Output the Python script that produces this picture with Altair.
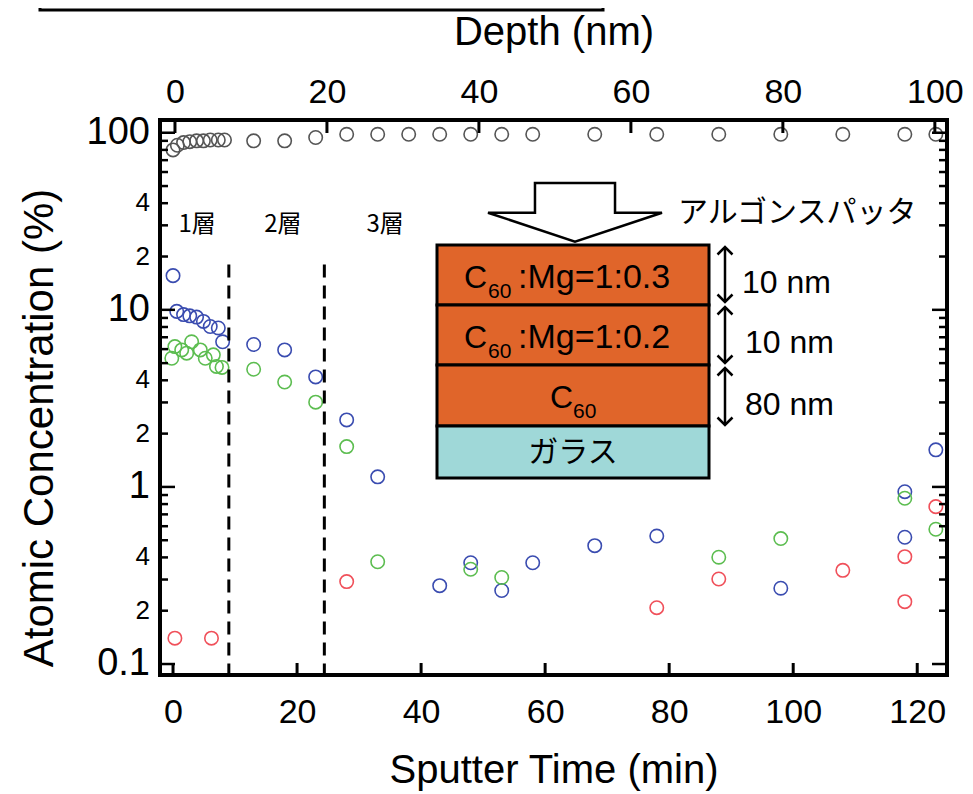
import altair as alt
import pandas as pd

# ---------------- data ----------------
series_names = ["gray", "blue", "green", "red"]
series_colors = ["#555555", "#3a4cb0", "#5cbd50", "#f0505a"]

gray_t = [0, 0.7, 1.7, 2.7, 3.8, 4.9, 6.0, 7.3, 8.3, 13, 18, 23, 28, 33, 38, 43, 48, 53, 58, 68, 78, 88, 98, 108, 118, 123]
gray_v = [80, 85, 88, 89, 90, 90, 91, 91, 91, 90, 90, 94, 98, 98, 98, 98, 98, 98, 98, 98, 98, 98, 98, 98, 98, 98]

blue_t = [0, 0.6, 1.7, 2.7, 3.8, 4.9, 6.0, 7.3, 8.0, 13, 18, 23, 28, 33, 43, 48, 53, 58, 68, 78, 98, 118, 118, 123]
blue_v = [15.6, 9.8, 9.4, 9.25, 9.1, 8.6, 8.05, 7.9, 6.6, 6.37, 5.94, 4.18, 2.39, 1.14, 0.277, 0.373, 0.26, 0.373, 0.466, 0.528, 0.268, 0.94, 0.52, 1.62]

green_t = [-0.2, 0.3, 1.4, 2.2, 3.0, 4.4, 5.2, 6.5, 7.0, 7.9, 13, 18, 23, 28, 33, 48, 53, 88, 98, 118, 123]
green_v = [5.33, 6.2, 5.94, 5.69, 6.6, 5.94, 5.33, 5.57, 4.79, 4.73, 4.62, 3.91, 3.01, 1.69, 0.378, 0.343, 0.308, 0.401, 0.511, 0.863, 0.577]

red_t = [0.3, 6.2, 28, 78, 88, 108, 118, 118, 123]
red_v = [0.14, 0.14, 0.292, 0.208, 0.302, 0.338, 0.404, 0.225, 0.774]

time_ticks = [0, 20, 40, 60, 80, 100, 120]
depth_ticks = [0, 20, 40, 60, 80, 100]
y_decades = [0.1, 1, 10, 100]
y_decade_labels = ["0.1", "1", "10", "100"]
y_minor_label_values = [0.2, 0.4, 2, 4, 20, 40]
y_minor_labels = ["2", "4", "2", "4", "2", "4"]
y_minor_mult = [2, 3, 4, 5, 6, 7, 8, 9]

layer_labels = ["1層", "2層", "3層"]
layer_label_t = [3.9, 17.7, 34.2]
layer_label_v = [30, 30, 30]

dash_t = [9.0, 24.4]
dash_top = [18, 18]

# ---------------- geometry / style ----------------
W, H = 787, 555
T_DOM = [-2.1, 124.8]
D_DOM = [-1.97, 101.6]
Y_DOM = [0.0867, 118]
FONT = "Liberation Sans"
JP = "Noto Sans CJK JP"

rows = []
for name, ts, vs in [("gray", gray_t, gray_v), ("blue", blue_t, blue_v),
                     ("green", green_t, green_v), ("red", red_t, red_v)]:
    for t, v in zip(ts, vs):
        rows.append({"t": t, "v": v, "s": name})
df = pd.DataFrame(rows)

minor_vals = [d * m for d in y_decades[:-1] for m in y_minor_mult]
dummy = pd.DataFrame({"a": [0]})


def xs():
    return alt.Scale(domain=T_DOM, nice=False, zero=False)


ys = alt.Scale(type="log", domain=Y_DOM, nice=False)

points = alt.Chart(df).mark_point(filled=False, size=180, strokeWidth=1.6, opacity=1).encode(
    x=alt.X("t:Q", scale=xs(), axis=alt.Axis(
        orient="bottom", values=time_ticks, title="Sputter Time (min)", domain=False, ticks=False,
        grid=False, labelFontSize=34, labelPadding=37, labelBaseline="middle", labelFont=FONT,
        labelColor="black", titleFont=FONT, titleFontSize=40, titleFontWeight="normal",
        titleColor="black", titleBaseline="middle", titleY=95, labelFlush=False)),
    y=alt.Y("v:Q", scale=ys, axis=None),
    color=alt.Color("s:N", scale=alt.Scale(domain=series_names, range=series_colors), legend=None),
)

dashes = alt.Chart(pd.DataFrame({"t": dash_t, "top": dash_top})).mark_rule(
    strokeDash=[13, 8], strokeWidth=3, color="black").encode(
    x=alt.X("t:Q", scale=xs(), axis=None), y=alt.Y("top:Q", scale=ys, axis=None), y2=alt.value(H))

layer_txt = alt.Chart(pd.DataFrame({"t": layer_label_t, "v": layer_label_v, "lab": layer_labels})).mark_text(
    font=JP, fontSize=24, color="black", baseline="middle").encode(
    x=alt.X("t:Q", scale=xs(), axis=None), y=alt.Y("v:Q", scale=ys, axis=None), text="lab:N")

bottom_ticks = alt.Chart(pd.DataFrame({"t": time_ticks})).mark_rule(strokeWidth=3, color="black").encode(
    x=alt.X("t:Q", scale=xs(), axis=None), y=alt.value(H), y2=alt.value(H - 12))


def yticks(vals, x0, x1):
    return alt.Chart(pd.DataFrame({"v": vals})).mark_rule(strokeWidth=2.5, color="black").encode(
        y=alt.Y("v:Q", scale=ys, axis=None), x=alt.value(x0), x2=alt.value(x1))


tick_layers = [yticks(y_decades, 0, 15), yticks(minor_vals, 0, 8),
               yticks(y_decades, W, W - 15), yticks(minor_vals, W, W - 8)]


def ylabels(vals, labs, size):
    return alt.Chart(pd.DataFrame({"v": vals, "lab": labs})).mark_text(
        font=FONT, fontSize=size, align="right", baseline="middle", color="black").encode(
        y=alt.Y("v:Q", scale=ys, axis=None), x=alt.value(-10), text="lab:N")


ylab_layers = [ylabels(y_decades, y_decade_labels, 38), ylabels(y_minor_label_values, y_minor_labels, 26)]

ytitle = alt.Chart(pd.DataFrame({"a": [0]})).mark_text(
    text="Atomic Concentration (%)", font=FONT, fontSize=42, angle=270, align="center",
    baseline="middle", color="black").encode(x=alt.value(-120), y=alt.value(308))


# ---------------- inset diagram ----------------
def box(x0, x1, y0, y1, fill, fo=1.0):
    return alt.Chart(dummy).mark_rect(fill=fill, fillOpacity=fo, stroke="black", strokeWidth=3).encode(
        x=alt.value(x0), x2=alt.value(x1), y=alt.value(y0), y2=alt.value(y1))


def txt(text, x, y, size, font=FONT, align="left", baseline="alphabetic"):
    return alt.Chart(dummy).mark_text(text=text, fontSize=size, font=font, align=align,
                                      baseline=baseline, color="black").encode(
        x=alt.value(x), y=alt.value(y))


def sym(path, x, y, size, filled=False, fill="white", sw=2.5):
    if filled:
        m = alt.Chart(dummy).mark_point(shape=path, size=size, filled=True, fill=fill, stroke="black",
                                        strokeWidth=sw, opacity=1)
    else:
        m = alt.Chart(dummy).mark_point(shape=path, size=size, filled=False, stroke="black",
                                        strokeWidth=sw, opacity=1)
    return m.encode(x=alt.value(x), y=alt.value(y))


def vline(x, y0, y1, sw=2.5):
    return alt.Chart(dummy).mark_rule(color="black", strokeWidth=sw).encode(
        x=alt.value(x), y=alt.value(y0), y2=alt.value(y1))


ORANGE = "#e0652a"
GLASS = "#9fd8d8"
ARROW = "M-0.46,-0.337L0.46,-0.337L0.46,0.004L1,0.004L0,0.337L-1,0.004L-0.46,0.004Z"
UP = "M-1,1L0,0L1,1"
DOWN = "M-1,-1L0,0L1,-1"

inset = [
    box(-120, 443, -220, -110, "white", 0),
    sym(ARROW, 415, 92.35, 174 * 174, filled=True),
    txt("アルゴンスパッタ", 518, 93, 30, font=JP, baseline="middle"),
    box(277, 549, 125, 185, ORANGE),
    box(277, 549, 185, 245, ORANGE),
    box(277, 549, 245, 306, ORANGE),
    box(277, 549, 306, 358, GLASS),
    txt("C", 304, 168, 32), txt("60", 328, 178, 21), txt(":Mg=1:0.3", 358, 168, 34),
    txt("C", 304, 228, 32), txt("60", 328, 238, 21), txt(":Mg=1:0.2", 358, 228, 34),
    txt("C", 390, 288, 32), txt("60", 413, 298, 21),
    txt("ガラス", 413, 333, 30, font=JP, align="center", baseline="middle"),
]
for (a, b) in [(127, 182), (187, 243), (248, 305)]:
    inset += [vline(565, a + 1, b - 1), sym(UP, 565, a, 225), sym(DOWN, 565, b, 225)]
inset += [txt("10 nm", 582, 163, 32, baseline="middle"),
          txt("10 nm", 585, 223, 32, baseline="middle"),
          txt("80 nm", 585, 285, 32, baseline="middle")]

top = alt.Chart(pd.DataFrame({"d": depth_ticks})).mark_rule(strokeWidth=3, color="black").encode(
    x=alt.X("d:Q", scale=alt.Scale(domain=D_DOM, nice=False, zero=False), axis=alt.Axis(
        orient="top", values=depth_ticks, title="Depth (nm)", domain=False, ticks=False, grid=False,
        labelFontSize=34, labelPadding=28, labelBaseline="middle", labelFont=FONT, labelColor="black",
        titleFont=FONT, titleFontSize=40, titleFontWeight="normal", titleColor="black",
        titleBaseline="middle", titleY=-88, labelFlush=False, format="d")),
    y=alt.value(0), y2=alt.value(13))

chart = alt.layer(points, dashes, layer_txt, bottom_ticks, *tick_layers, *ylab_layers, ytitle,
                  *inset, top).resolve_scale(x="independent").properties(
    width=W, height=H,
    autosize=alt.AutoSizeParams(type="none"),
    padding={"left": 152, "top": 112, "right": 18, "bottom": 118},
    background="white",
).configure_view(stroke="black", strokeWidth=4)

chart.save("out.html", embed_options={"renderer": "svg", "actions": False})
